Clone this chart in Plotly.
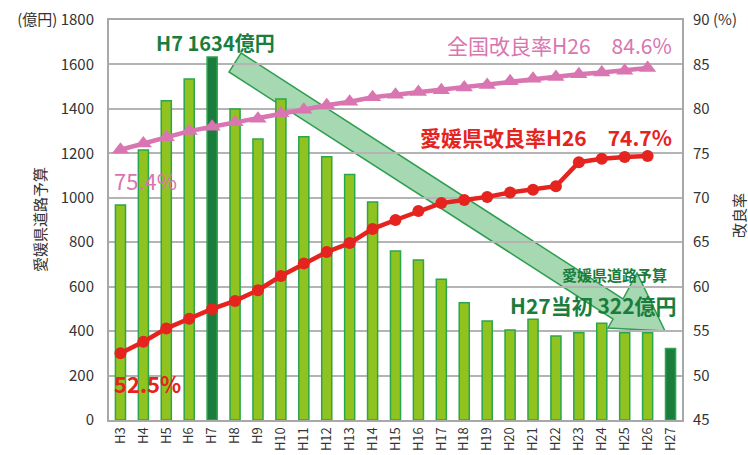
import plotly.graph_objects as go

years = ["H3","H4","H5","H6","H7","H8","H9","H10","H11","H12","H13","H14","H15",
         "H16","H17","H18","H19","H20","H21","H22","H23","H24","H25","H26","H27"]
budget = [967, 1215, 1437, 1535, 1634, 1400, 1265, 1445, 1275, 1185, 1105, 981, 760,
          720, 633, 528, 446, 405, 453, 378, 393, 435, 393, 393, 322]
national_rate = [75.4, 76.1, 76.8, 77.5, 78.0, 78.5, 78.9, 79.5, 79.9, 80.4, 80.8, 81.3, 81.6,
                 81.9, 82.1, 82.4, 82.7, 83.1, 83.4, 83.6, 83.9, 84.1, 84.3, 84.6]
ehime_rate = [52.5, 53.8, 55.3, 56.4, 57.5, 58.4, 59.6, 61.2, 62.6, 63.9, 64.9, 66.5, 67.5,
              68.5, 69.4, 69.75, 70.1, 70.6, 70.9, 71.3, 74.0, 74.4, 74.6, 74.7]
highlight = {"H7", "H27"}
left_ticks = [0, 200, 400, 600, 800, 1000, 1200, 1400, 1600, 1800]
left_ticktext = ["0", "200", "400", "600", "800", "1000", "1200", "1400", "1600", "(億円) 1800"]
right_ticks = [45, 50, 55, 60, 65, 70, 75, 80, 85, 90]
right_ticktext = ["45", "50", "55", "60", "65", "70", "75", "80", "85", "90 (%)"]

FONT = "Noto Sans CJK JP"
DARK_GREEN = "#1b7d3c"
LIGHT_GREEN = "#90c31f"
BAR_EDGE = "#2aa64c"
PINK = "#d975b0"
RED = "#e5231f"
GRID = "#b4b4b4"
AXIS_TXT = "#333333"

fig = go.Figure()
fig.add_trace(go.Bar(
    x=years, y=budget, width=0.44,
    marker=dict(color=[DARK_GREEN if y in highlight else LIGHT_GREEN for y in years],
                line=dict(color=BAR_EDGE, width=1.5)),
    yaxis="y", showlegend=False, hoverinfo="skip"))
fig.add_trace(go.Scatter(
    x=years[:len(national_rate)], y=national_rate, yaxis="y2", mode="lines+markers",
    line=dict(color=PINK, width=4.5), marker=dict(symbol="triangle-up", size=15, color=PINK),
    showlegend=False))
fig.add_trace(go.Scatter(
    x=years[:len(ehime_rate)], y=ehime_rate, yaxis="y2", mode="lines+markers",
    line=dict(color=RED, width=4.5), marker=dict(symbol="circle", size=12, color=RED),
    showlegend=False))

# plot area in pixels
L, R, T, B = 109, 682, 20, 420
def px(X):
    return (X - L) / (R - L)
def py(Y):
    return (B - Y) / (B - T)

arrow_px = [(241, 53), (623, 299), (637, 273), (665, 331), (608, 328), (613, 319), (229, 72)]
path = "M " + " L ".join(f"{px(a):.4f},{py(b):.4f}" for a, b in arrow_px) + " Z"
fig.add_shape(type="path", path=path, xref="paper", yref="paper",
              fillcolor="rgba(70,175,95,0.48)", line=dict(color="#2f9e50", width=1.5),
              layer="between")

def ann(text, X, Y, color, size, xanchor="center", bold=False, angle=0):
    fig.add_annotation(text=f"<b>{text}</b>" if bold else text, x=px(X), y=py(Y),
                       xref="paper", yref="paper", showarrow=False, xanchor=xanchor,
                       yanchor="middle", textangle=angle,
                       font=dict(family=FONT, size=size, color=color))

ann("H7 1634億円", 215, 42, DARK_GREEN, 20, bold=True)
ann("全国改良率H26　84.6%", 674, 45, PINK, 21, xanchor="right")
ann("愛媛県改良率H26　74.7%", 674, 137, RED, 21, xanchor="right", bold=True)
ann("75.4%", 112, 180, PINK, 22, xanchor="left")
ann("52.5%", 112, 383, RED, 22, xanchor="left", bold=True)
ann("愛媛県道路予算", 669, 274, DARK_GREEN, 15, xanchor="right", bold=True)
ann("H27当初 322億円", 679, 305, DARK_GREEN, 21, xanchor="right", bold=True)
ann("愛媛県道路予算", 39, 220, AXIS_TXT, 15, angle=-90)
ann("改良率", 738, 216, AXIS_TXT, 15, angle=-90)

fig.update_layout(
    width=748, height=455,
    margin=dict(l=L, r=748 - R, t=T, b=455 - B, autoexpand=False),
    paper_bgcolor="white", plot_bgcolor="white",
    font=dict(family=FONT, color=AXIS_TXT),
    xaxis=dict(type="category", range=[-0.5, len(years) - 0.5], tickangle=-90,
               tickfont=dict(size=13, color=AXIS_TXT),
               showline=True, linecolor="#a8a8a8", linewidth=2, mirror=True,
               ticks="", showgrid=False, automargin=False),
    yaxis=dict(range=[0, 1800], tickvals=left_ticks, ticktext=left_ticktext,
               tickfont=dict(size=15, color=AXIS_TXT),
               showgrid=True, gridcolor=GRID, gridwidth=1.5,
               showline=True, linecolor="#a8a8a8", linewidth=2, mirror=True,
               zeroline=False, ticks="", ticklabelstandoff=10, automargin=False),
    yaxis2=dict(range=[45, 90], tickvals=right_ticks, ticktext=right_ticktext,
                overlaying="y", side="right", showgrid=False, zeroline=False,
                tickfont=dict(size=15, color=AXIS_TXT), ticks="", ticklabelstandoff=10,
                automargin=False),
)

fig.write_html("out.html", config={"displayModeBar": False},
               post_script="document.body.style.margin='0px';")
